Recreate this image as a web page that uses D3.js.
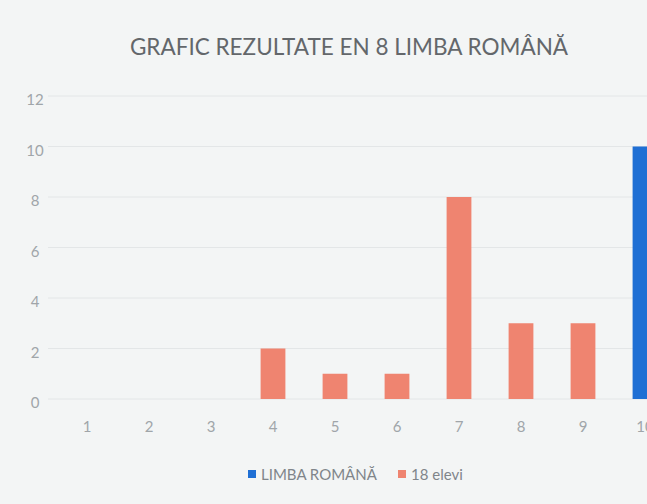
<!DOCTYPE html>
<html>
<head>
<meta charset="utf-8">
<script src="https://cdn.jsdelivr.net/npm/d3@7"></script>
<style>
  body { margin: 0; background: #f3f5f5; }
  svg { display: block; }
</style>
</head>
<body>
<svg width="647" height="504"></svg>
<script>
// data
let categories = ["1", "2", "3", "4", "5", "6", "7", "8", "9", "10"];
let limbaRomana = [0, 0, 0, 0, 0, 0, 0, 0, 0, 10];
let elevi = [0, 0, 0, 2, 1, 1, 8, 3, 3, 0];
let yTicks = [0, 2, 4, 6, 8, 10, 12];
let seriesNames = ["LIMBA ROMÂNĂ", "18 elevi"];
let colors = ["#1f6fd4", "#ef8470"];

let svg = d3.select("svg");

let x = d3.scaleBand().domain(categories).range([56, 676]).paddingInner(0.6).paddingOuter(0.3);
let y = d3.scaleLinear().domain([0, 12]).range([399, 96]);

svg.append("rect").attr("width", 647).attr("height", 504).attr("fill", "#f3f5f5");

// gridlines
svg.append("g")
    .selectAll("line")
    .data(yTicks)
    .enter().append("line")
    .attr("x1", 48).attr("x2", 647)
    .attr("y1", function(d) { return y(d); })
    .attr("y2", function(d) { return y(d); })
    .attr("stroke", "#e3e6e7")
    .attr("stroke-width", 1);

// y axis labels
let yAxis = svg.append("g")
    .attr("transform", "translate(35,4)")
    .call(d3.axisLeft(y).tickValues(yTicks).tickSize(0).tickPadding(0));
yAxis.select(".domain").remove();
yAxis.selectAll("text")
    .attr("text-anchor", "middle")
    .attr("fill", "#a0a5a9")
    .style("font", "15px Lato, sans-serif");

// x axis labels
let xAxis = svg.append("g")
    .attr("transform", "translate(0,421)")
    .call(d3.axisBottom(x).tickSize(0).tickPadding(0));
xAxis.select(".domain").remove();
xAxis.selectAll("text")
    .attr("fill", "#a0a5a9")
    .style("font", "15px Lato, sans-serif");

let rows = categories.map(function(c, i) { return {cat: c, values: [limbaRomana[i], elevi[i]]}; });

seriesNames.forEach(function(name, s) {
    svg.append("g")
        .selectAll("rect")
        .data(rows.filter(function(d) { return d.values[s] > 0; }))
        .enter().append("rect")
        .attr("x", function(d) { return x(d.cat); })
        .attr("width", x.bandwidth())
        .attr("y", function(d) { return y(d.values[s]); })
        .attr("height", function(d) { return y(0) - y(d.values[s]); })
        .attr("fill", colors[s]);
});

// title
svg.append("text")
    .attr("x", 349).attr("y", 55)
    .attr("text-anchor", "middle")
    .attr("fill", "#63676b")
    .style("font", "22.5px Lato, sans-serif")
    .text("GRAFIC REZULTATE EN 8 LIMBA ROMÂNĂ");

// legend
let legendX = [248, 398];
let legend = svg.append("g")
    .selectAll("g")
    .data(seriesNames)
    .enter().append("g")
    .attr("transform", function(d, i) { return "translate(" + legendX[i] + ",470)"; });
legend.append("rect")
    .attr("width", 8).attr("height", 8)
    .attr("fill", function(d, i) { return colors[i]; });
legend.append("text")
    .attr("x", 13).attr("y", 9.5)
    .attr("fill", "#80858a")
    .style("font", "15px Lato, sans-serif")
    .text(function(d) { return d; });
</script>
</body>
</html>
